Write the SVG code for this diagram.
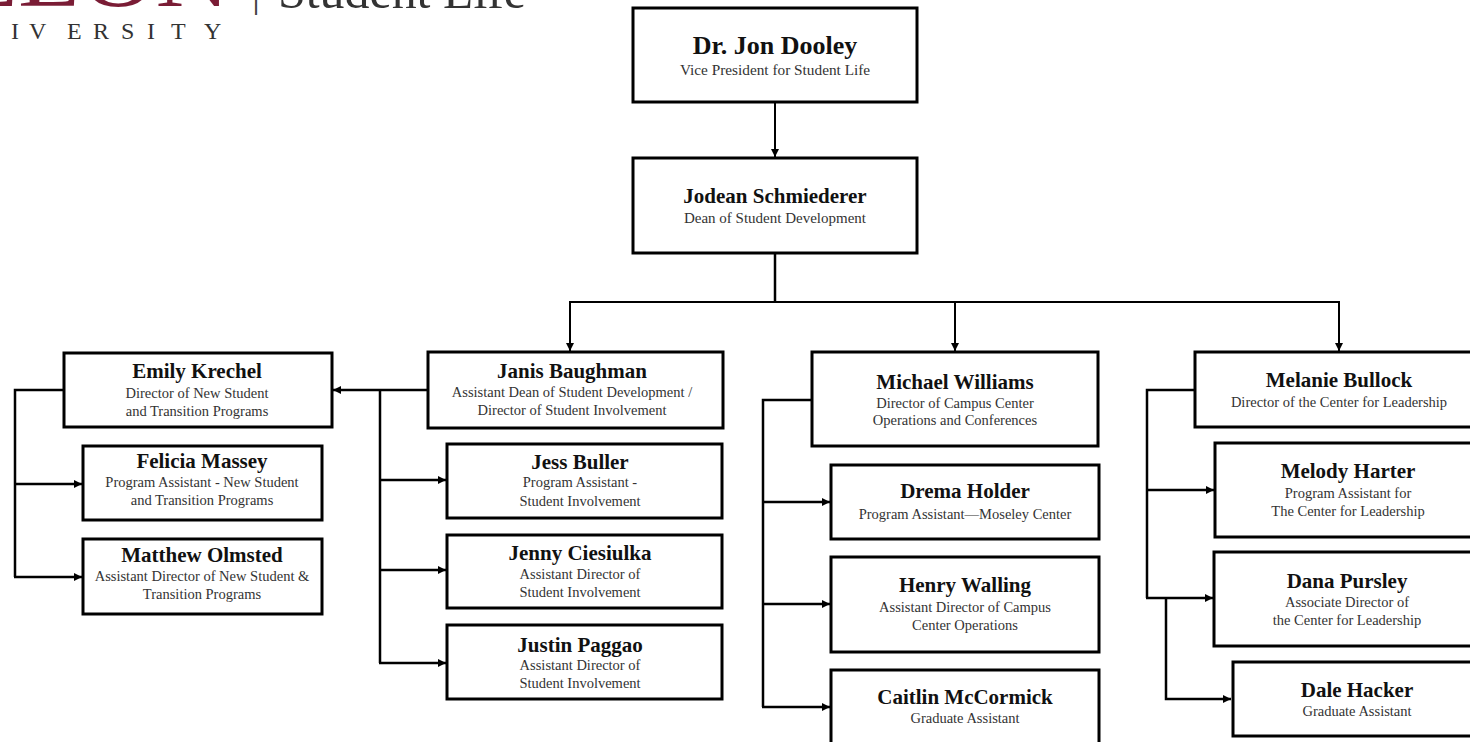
<svg xmlns="http://www.w3.org/2000/svg" width="1470" height="742" viewBox="0 0 1470 742">
<style>
.box{fill:#fff;stroke:#000;stroke-width:3}
.nm{font-family:"Liberation Serif",serif;font-weight:bold;font-size:21px;fill:#111;text-anchor:middle}
.sb{font-family:"Liberation Serif",serif;font-size:14.5px;fill:#333;text-anchor:middle}
.ln{fill:none;stroke:#000;stroke-width:2.5}
.thin{fill:none;stroke:#000;stroke-width:2}
.logo{font-family:"Liberation Serif",serif}
</style>
<defs>
<marker id="ah" markerUnits="userSpaceOnUse" markerWidth="9" markerHeight="9" refX="8" refY="4" orient="auto">
<path d="M0,0 L8,4 L0,8 z" fill="#000"/>
</marker>
</defs>
<rect width="1470" height="742" fill="#fff"/>
<g id="logo">
<text class="logo" x="-45" y="6" font-size="92" fill="#7a1c35" textLength="275" lengthAdjust="spacingAndGlyphs">ELON</text>
<text class="logo" x="252" y="6" font-size="40" fill="#444">|</text>
<text class="logo" x="278" y="8" font-size="48" fill="#333" textLength="248" lengthAdjust="spacingAndGlyphs">Student Life</text>
<text class="logo" y="39" font-size="24" fill="#333" x="-50 -20 11 29 67 93 121 147 171 204">UNIVERSITY</text>
</g>
<g id="connectors">
<line class="thin" x1="775" y1="102" x2="775" y2="157" marker-end="url(#ah)"/>
<line class="ln" x1="775" y1="253" x2="775" y2="302" stroke-width="3"/>
<line class="thin" x1="569" y1="302" x2="1340" y2="302"/>
<line class="thin" x1="570" y1="302" x2="570" y2="351" marker-end="url(#ah)"/>
<line class="thin" x1="955" y1="302" x2="955" y2="351" marker-end="url(#ah)"/>
<line class="thin" x1="1339" y1="302" x2="1339" y2="351" marker-end="url(#ah)"/>
<line class="ln" x1="428" y1="390" x2="333" y2="390" marker-end="url(#ah)"/>
<path class="ln" d="M380,390 V663"/>
<line class="ln" x1="380" y1="480" x2="446" y2="480" marker-end="url(#ah)"/>
<line class="ln" x1="380" y1="570" x2="446" y2="570" marker-end="url(#ah)"/>
<line class="ln" x1="379" y1="663" x2="446" y2="663" marker-end="url(#ah)"/>
<path class="ln" d="M64,390 H15 V577"/>
<line class="ln" x1="15" y1="484" x2="82" y2="484" marker-end="url(#ah)"/>
<line class="ln" x1="14" y1="577" x2="82" y2="577" marker-end="url(#ah)"/>
<path class="ln" d="M812,400 H763 V707"/>
<line class="ln" x1="763" y1="502" x2="830" y2="502" marker-end="url(#ah)"/>
<line class="ln" x1="763" y1="604" x2="830" y2="604" marker-end="url(#ah)"/>
<line class="ln" x1="762" y1="707" x2="830" y2="707" marker-end="url(#ah)"/>
<path class="ln" d="M1195,390 H1147 V598"/>
<line class="ln" x1="1147" y1="490" x2="1214" y2="490" marker-end="url(#ah)"/>
<line class="ln" x1="1146" y1="598" x2="1213" y2="598" marker-end="url(#ah)"/>
<path class="ln" d="M1166,598 V699 H1231" marker-end="url(#ah)"/>
</g>
<g id="dooley">
<rect class="box" x="633" y="8" width="284" height="94"/>
<text class="nm" x="775" y="54" style="font-size:26px">Dr. Jon Dooley</text>
<text class="sb" x="775" y="75" style="font-size:15.3px">Vice President for Student Life</text>
</g>
<g id="schmiederer">
<rect class="box" x="633" y="158" width="284" height="95"/>
<text class="nm" x="775" y="203">Jodean Schmiederer</text>
<text class="sb" x="775" y="223" style="font-size:15px">Dean of Student Development</text>
</g>
<g id="krechel">
<rect class="box" x="64" y="353" width="268" height="74"/>
<text class="nm" x="197" y="378">Emily Krechel</text>
<text class="sb" x="197" y="398">Director of New Student</text>
<text class="sb" x="197" y="416">and Transition Programs</text>
</g>
<g id="massey">
<rect class="box" x="83" y="446" width="239" height="74"/>
<text class="nm" x="202" y="468">Felicia Massey</text>
<text class="sb" x="202" y="487">Program Assistant - New Student</text>
<text class="sb" x="202" y="505">and Transition Programs</text>
</g>
<g id="olmsted">
<rect class="box" x="83" y="539" width="239" height="75"/>
<text class="nm" x="202" y="562">Matthew Olmsted</text>
<text class="sb" x="202" y="581">Assistant Director of New Student &amp;</text>
<text class="sb" x="202" y="599">Transition Programs</text>
</g>
<g id="baughman">
<rect class="box" x="428" y="352" width="295" height="76"/>
<text class="nm" x="572" y="378">Janis Baughman</text>
<text class="sb" x="572" y="397">Assistant Dean of Student Development /</text>
<text class="sb" x="572" y="415">Director of Student Involvement</text>
</g>
<g id="buller">
<rect class="box" x="447" y="444" width="275" height="74"/>
<text class="nm" x="580" y="469">Jess Buller</text>
<text class="sb" x="580" y="487">Program Assistant -</text>
<text class="sb" x="580" y="506">Student Involvement</text>
</g>
<g id="ciesiulka">
<rect class="box" x="447" y="535" width="275" height="73"/>
<text class="nm" x="580" y="560">Jenny Ciesiulka</text>
<text class="sb" x="580" y="579">Assistant Director of</text>
<text class="sb" x="580" y="597">Student Involvement</text>
</g>
<g id="paggao">
<rect class="box" x="447" y="625" width="275" height="74"/>
<text class="nm" x="580" y="652">Justin Paggao</text>
<text class="sb" x="580" y="670">Assistant Director of</text>
<text class="sb" x="580" y="688">Student Involvement</text>
</g>
<g id="williams">
<rect class="box" x="812" y="352" width="286" height="94"/>
<text class="nm" x="955" y="389">Michael Williams</text>
<text class="sb" x="955" y="408">Director of Campus Center</text>
<text class="sb" x="955" y="425">Operations and Conferences</text>
</g>
<g id="holder">
<rect class="box" x="831" y="465" width="268" height="74"/>
<text class="nm" x="965" y="498">Drema Holder</text>
<text class="sb" x="965" y="519">Program Assistant—Moseley Center</text>
</g>
<g id="walling">
<rect class="box" x="831" y="557" width="268" height="95"/>
<text class="nm" x="965" y="592">Henry Walling</text>
<text class="sb" x="965" y="612">Assistant Director of Campus</text>
<text class="sb" x="965" y="630">Center Operations</text>
</g>
<g id="mccormick">
<rect class="box" x="831" y="670" width="268" height="100"/>
<text class="nm" x="965" y="704">Caitlin McCormick</text>
<text class="sb" x="965" y="723">Graduate Assistant</text>
</g>
<g id="bullock">
<rect class="box" x="1195" y="352" width="290" height="75"/>
<text class="nm" x="1339" y="387">Melanie Bullock</text>
<text class="sb" x="1339" y="407">Director of the Center for Leadership</text>
</g>
<g id="harter">
<rect class="box" x="1215" y="443" width="280" height="94"/>
<text class="nm" x="1348" y="478">Melody Harter</text>
<text class="sb" x="1348" y="498">Program Assistant for</text>
<text class="sb" x="1348" y="516">The Center for Leadership</text>
</g>
<g id="pursley">
<rect class="box" x="1214" y="552" width="280" height="94"/>
<text class="nm" x="1347" y="588">Dana Pursley</text>
<text class="sb" x="1347" y="607">Associate Director of</text>
<text class="sb" x="1347" y="625">the Center for Leadership</text>
</g>
<g id="hacker">
<rect class="box" x="1233" y="662" width="260" height="74"/>
<text class="nm" x="1357" y="697">Dale Hacker</text>
<text class="sb" x="1357" y="716">Graduate Assistant</text>
</g>
</svg>
